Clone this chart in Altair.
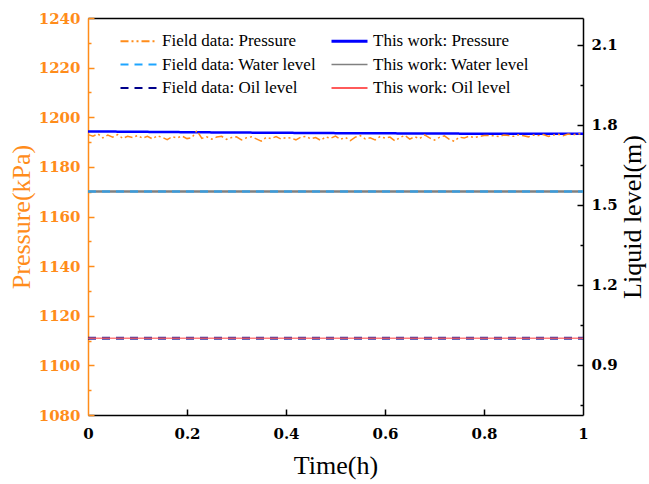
import altair as alt
import numpy as np
import pandas as pd

FONT = "Liberation Serif"
BFONT = "DejaVu Serif"
ORANGE = "#ff8c1a"
W, H = 495, 397

# ---------------- data ----------------
series_names = [
    "Field data: Pressure", "Field data: Water level", "Field data: Oil level",
    "This work: Pressure", "This work: Water level", "This work: Oil level",
]
series_colors = ["#ff8c1a", "#1ea5ff", "#00008b", "#0000ff", "#808080", "#ff5a5a"]
series_dashes = [[8, 3, 2, 3, 2, 3], [8, 6], [8, 6], [1, 0], [1, 0], [1, 0]]
series_widths = [1.5, 2.5, 3, 2.5, 2.5, 1.5]
series_opacity = [1, 0.7, 0.8, 1, 1, 0.8]
legend_widths = [2, 2, 2, 3, 1.5, 2]

t_field = np.round(np.linspace(0, 1, 101), 2)
p_field = [
    1193.0, 1192.4, 1193.3, 1191.7, 1192.8, 1192.0, 1193.0, 1191.5, 1192.3, 1191.8, 1192.6,
    1191.6, 1192.3, 1191.3, 1192.5, 1191.9, 1191.0, 1192.1, 1191.7, 1192.4, 1191.4,
    1191.8, 1194.6, 1191.5, 1192.1, 1191.2, 1192.0, 1192.3, 1191.1, 1191.8, 1192.1,
    1190.9, 1191.7, 1192.1, 1191.3, 1190.4, 1191.9, 1191.4, 1192.2, 1191.2, 1191.8,
    1191.6, 1190.9, 1192.0, 1192.3, 1191.3, 1191.8, 1190.7, 1192.1, 1191.5, 1192.4,
    1191.1, 1191.9, 1190.6, 1192.0, 1192.6, 1191.3, 1191.7, 1190.9, 1192.2, 1191.6,
    1192.0, 1190.5, 1191.8, 1192.7, 1191.2, 1192.1, 1191.4, 1192.9, 1191.7, 1190.8,
    1191.9, 1192.5, 1191.1, 1190.3, 1192.0, 1191.6, 1192.4, 1191.8, 1192.2, 1192.6,
    1192.6, 1192.5, 1192.2, 1192.8, 1192.6, 1192.3, 1192.9, 1192.5, 1192.1, 1192.8,
    1192.6, 1193.0, 1192.3, 1192.8, 1193.1, 1192.6, 1193.2, 1192.9, 1193.4, 1193.1,
]
t_model = [0.0, 0.25, 0.5, 0.75, 1.0]
p_model = [1194.3, 1193.9, 1193.6, 1193.4, 1193.3]

t_level = [0.0, 0.25, 0.5, 0.75, 1.0]
water_field = [1.55, 1.55, 1.55, 1.55, 1.55]
water_model = [1.55, 1.55, 1.55, 1.55, 1.55]
oil_field = [1.0, 1.0, 1.0, 1.0, 1.0]
oil_model = [1.0, 1.0, 1.0, 1.0, 1.0]

p_domain = [1080, 1240]
p_ticks = [1080, 1100, 1120, 1140, 1160, 1180, 1200, 1220, 1240]
p_minor = [1090, 1110, 1130, 1150, 1170, 1190, 1210, 1230]
lv_domain = [0.7125, 2.2]
lv_ticks = [0.9, 1.2, 1.5, 1.8, 2.1]
lv_minor = [0.75, 1.05, 1.35, 1.65, 1.95]
x_ticks = [0, 0.2, 0.4, 0.6, 0.8, 1]
x_inner_ticks = [0.2, 0.4, 0.6, 0.8]

df_pf = pd.DataFrame({"t": t_field, "v": p_field, "series": series_names[0]})
df_pm = pd.DataFrame({"t": t_model, "v": p_model, "series": series_names[3]})
df_lv = pd.concat([
    pd.DataFrame({"t": t_level, "v": water_field, "series": series_names[1]}),
    pd.DataFrame({"t": t_level, "v": water_model, "series": series_names[4]}),
    pd.DataFrame({"t": t_level, "v": oil_field, "series": series_names[2]}),
    pd.DataFrame({"t": t_level, "v": oil_model, "series": series_names[5]}),
], ignore_index=True)

# ---------------- encodings ----------------
x_scale = alt.Scale(domain=[0, 1], nice=False, zero=False)
p_scale = alt.Scale(domain=p_domain, nice=False, zero=False)
lv_scale = alt.Scale(domain=lv_domain, nice=False, zero=False)

width_expr = " : ".join(
    f"datum.value === '{n}' ? {w}" for n, w in zip(series_names, legend_widths)
) + " : 2"

legend = alt.Legend(
    orient="none", legendX=33, legendY=14.5, columns=2, columnPadding=9,
    rowPadding=5.5, padding=0, title=None, labelFont=FONT, labelFontSize=17,
    labelColor="black", symbolType="M-1,0H3", symbolSize=324, labelOffset=24,
    labelLimit=400, symbolStrokeWidth={"expr": width_expr},
)
color_enc = alt.Color("series:N", scale=alt.Scale(domain=series_names, range=series_colors), legend=legend)
dash_enc = alt.StrokeDash("series:N", scale=alt.Scale(domain=series_names, range=series_dashes), legend=legend)

x_axis_main = alt.Axis(
    orient="bottom", values=x_ticks, format="~g", labelFont=BFONT, labelFontWeight="bold",
    labelFontSize=15, labelColor="black", ticks=False, domain=True, domainColor="black",
    domainWidth=1.5, labelPadding=11, labelFlush=False, title="Time(h)", titleFont=FONT,
    titleFontSize=26, titleFontWeight="normal", titleColor="black", titlePadding=11, grid=False,
)
p_axis_main = alt.Axis(
    orient="left", values=p_ticks, format="d", labelFont=BFONT, labelFontWeight="bold",
    labelFontSize=15, labelColor=ORANGE, ticks=False, domain=True, domainColor=ORANGE,
    domainWidth=1.5, labelPadding=8, labelFlush=False, title="Pressure(kPa)", titleFont=FONT,
    titleFontSize=26, titleFontWeight="normal", titleColor=ORANGE, titlePadding=4, grid=False,
)
lv_axis_main = alt.Axis(
    orient="right", values=lv_ticks, format=".1f", labelFont=BFONT, labelFontWeight="bold",
    labelFontSize=15, labelColor="black", ticks=False, domain=True, domainColor="black",
    domainWidth=1.5, labelPadding=8, labelFlush=False, title="Liquid level(m)", titleFont=FONT,
    titleFontSize=26, titleFontWeight="normal", titleColor="black", titlePadding=2,
    titleAngle=270, titleBaseline="top", grid=False,
)

# ---------------- pressure group ----------------
p_field_line = alt.Chart(df_pf).mark_line(strokeWidth=series_widths[0]).encode(
    x=alt.X("t:Q", scale=x_scale, axis=x_axis_main),
    y=alt.Y("v:Q", scale=p_scale, axis=p_axis_main),
    color=color_enc, strokeDash=dash_enc,
)
p_model_line = alt.Chart(df_pm).mark_line(strokeWidth=series_widths[3]).encode(
    x=alt.X("t:Q", scale=x_scale, axis=x_axis_main),
    y=alt.Y("v:Q", scale=p_scale, axis=p_axis_main),
    color=color_enc, strokeDash=dash_enc,
)
pressure_group = alt.layer(p_model_line, p_field_line)

# ---------------- level group ----------------
lv_layers = []
for idx in [4, 1, 2, 5]:
    name = series_names[idx]
    lv_layers.append(
        alt.Chart(df_lv).transform_filter(alt.datum.series == name)
        .mark_line(strokeWidth=series_widths[idx], opacity=series_opacity[idx]).encode(
            x=alt.X("t:Q", scale=x_scale, axis=None),
            y=alt.Y("v:Q", scale=lv_scale, axis=lv_axis_main),
            color=color_enc, strokeDash=dash_enc,
        )
    )
level_group = alt.layer(*lv_layers)


# ---------------- inward tick layers ----------------
def tick_axis(orient, values, size, color):
    return alt.Axis(
        orient=orient, values=values, offset=-size, tickSize=size, ticks=True,
        tickColor=color, tickWidth=1.5, labels=False, domain=False, title=None, grid=False,
    )


p_major = alt.Chart(df_pm).mark_line(opacity=0).encode(
    x=alt.X("t:Q", scale=x_scale, axis=tick_axis("bottom", x_inner_ticks, 6, "black")),
    y=alt.Y("v:Q", scale=p_scale, axis=tick_axis("left", p_ticks, 6, ORANGE)),
)
p_minor_l = alt.Chart(df_pm).mark_line(opacity=0).encode(
    x=alt.X("t:Q", scale=x_scale, axis=alt.Axis(
        orient="top", domain=True, domainColor="black", domainWidth=1.5, ticks=False,
        labels=False, title=None, grid=False)),
    y=alt.Y("v:Q", scale=p_scale, axis=tick_axis("left", p_minor, 3, ORANGE)),
)
lv_major = alt.Chart(df_lv).mark_line(opacity=0).encode(
    x=alt.X("t:Q", scale=x_scale, axis=None),
    y=alt.Y("v:Q", scale=lv_scale, axis=tick_axis("right", lv_ticks, 6, "black")),
)
lv_minor_l = alt.Chart(df_lv).mark_line(opacity=0).encode(
    x=alt.X("t:Q", scale=x_scale, axis=None),
    y=alt.Y("v:Q", scale=lv_scale, axis=tick_axis("right", lv_minor, 3, "black")),
)

chart = alt.layer(
    level_group, pressure_group, p_major, p_minor_l, lv_major, lv_minor_l
).resolve_scale(y="independent").resolve_axis(x="independent", y="independent").properties(
    width=W, height=H,
    autosize=alt.AutoSizeParams(type="none"),
    padding={"left": 88, "top": 18, "right": 66, "bottom": 69},
).configure(font=FONT).configure_view(stroke=None).configure_axis(
    grid=False, titleFont=FONT
).configure_legend(labelFont=FONT)

chart.save("out.html", embed_options={"renderer": "svg", "actions": False})
